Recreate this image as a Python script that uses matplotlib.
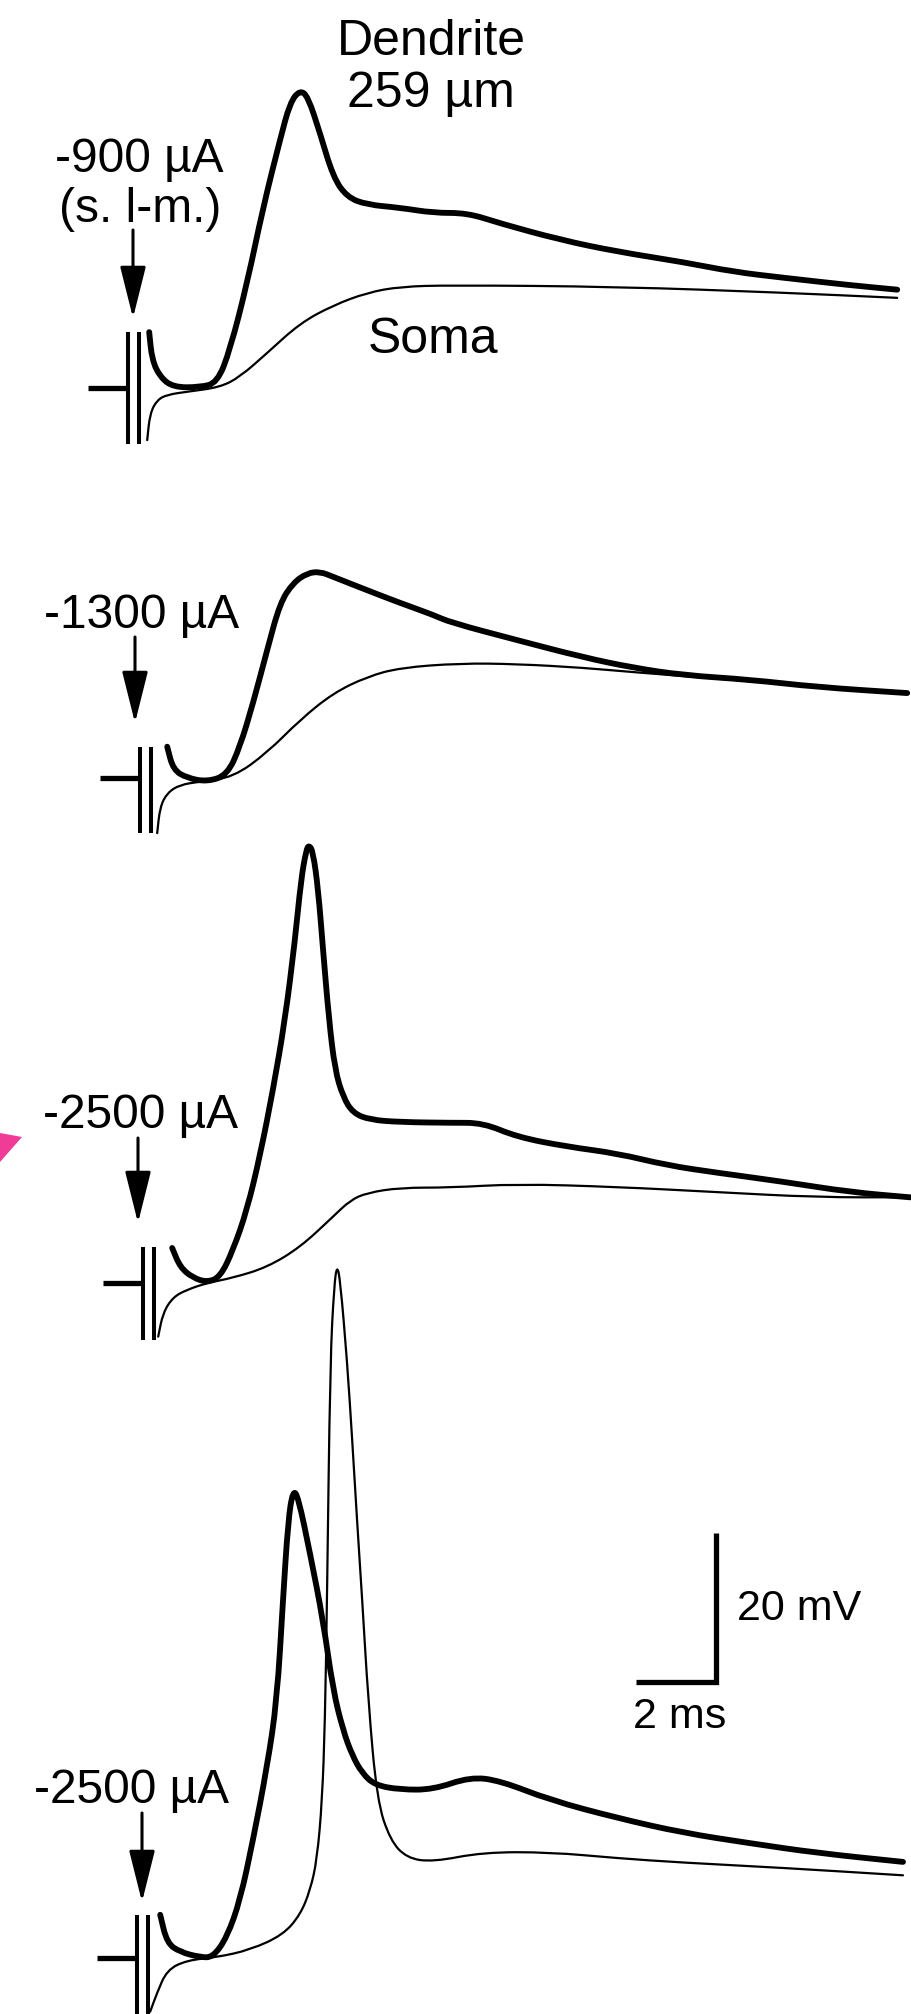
import numpy as np
import matplotlib.pyplot as plt
from matplotlib.patches import Polygon, PathPatch
from matplotlib.path import Path

plt.rcParams['font.family'] = ['Liberation Sans', 'DejaVu Sans']

W, H = 912, 2014
PX_MS = 40.0    # px per ms (2 ms bar = 80 px)
PX_MV = 7.45    # px per mV (20 mV bar = 149 px)

# ---- data: time (ms from stimulus) and voltage (mV from baseline) ----
# panel 1: -900 uA (s. l-m.)
t_d1 = [0.53, 0.6, 0.8, 1.13, 1.8, 2.23, 2.55, 2.98, 3.38, 3.8, 4.05, 4.3, 4.5, 4.8,
        5.13, 5.48, 5.98, 6.8, 7.63, 8.48, 9.3, 10.8, 12.23, 13.88, 15.13, 16.38, 18.05, 19.23]
v_d1 = [7.5, 3.8, 1.5, 0.1, 0.1, 0.7, 5.1, 14.1, 24.3, 33.3, 38.3, 40.0, 39.1, 34.2,
        28.3, 25.6, 24.6, 24.2, 23.5, 23.5, 22.1, 19.9, 18.3, 16.9, 15.6, 14.8, 13.8, 13.2]
t_s1 = [0.48, 0.55, 0.73, 0.98, 1.48, 2.3, 2.8, 3.48, 4.3, 5.13, 5.98, 6.8, 8.05, 12.23, 16.38, 19.23]
v_s1 = [-7.0, -3.4, -1.6, -0.9, -0.5, 0.1, 1.5, 4.7, 8.7, 11.1, 12.8, 13.6, 13.8, 13.6, 12.8, 12.1]

# panel 2: -1300 uA
t_d2 = [0.68, 0.83, 1.18, 1.68, 2.18, 2.5, 2.83, 3.18, 3.5, 3.83, 4.18, 4.5, 4.83,
        5.68, 6.5, 7.33, 7.75, 9.43, 11.08, 12.33, 13.58, 15.25, 16.93, 19.18]
v_d2 = [4.2, 1.1, 0.0, -0.5, 0.4, 4.2, 10.1, 17.2, 23.5, 26.2, 27.5, 27.7, 27.0,
        25.2, 23.5, 21.9, 20.9, 18.5, 16.2, 14.8, 13.8, 13.2, 12.2, 11.4]
t_s2 = [0.43, 0.5, 0.68, 1.0, 1.5, 2.33, 3.18, 4.0, 4.83, 5.68, 6.5, 8.0, 9.43, 11.08, 12.33, 15.25, 19.18]
v_s2 = [-7.4, -3.9, -2.0, -0.9, -0.5, 0.1, 3.4, 7.8, 11.4, 13.6, 14.8, 15.4, 15.3, 14.8, 14.2, 13.0, 11.3]

# panel 3: -2500 uA
t_d3 = [0.73, 0.93, 1.25, 1.6, 1.93, 2.25, 2.6, 2.93, 3.25, 3.55, 3.8, 3.95, 4.08, 4.15,
        4.25, 4.38, 4.5, 4.65, 4.8, 5.0, 5.25, 5.68, 6.43, 7.68, 8.5, 9.35, 10.6, 11.85,
        13.1, 14.35, 16.0, 17.68, 19.18]
v_d3 = [4.7, 2.1, 0.7, 0.1, 0.8, 4.4, 9.8, 17.2, 25.9, 35.3, 46.0, 54.1, 58.1, 58.8,
        57.9, 52.8, 44.8, 35.3, 28.6, 25.0, 22.8, 21.9, 21.6, 21.5, 21.5, 19.6, 18.3, 17.4,
        15.8, 14.8, 13.6, 12.2, 11.5]
t_s3 = [0.38, 0.5, 0.75, 1.1, 1.6, 2.25, 3.1, 3.93, 4.75, 5.18, 5.6, 6.43, 7.68, 9.35,
        11.85, 14.35, 16.85, 19.18]
v_s3 = [-7.2, -4.0, -1.9, -0.9, 0.0, 0.7, 2.1, 4.8, 8.9, 11.1, 12.1, 12.8, 12.8, 13.3,
        12.9, 12.2, 11.5, 11.5]

# panel 4: -2500 uA (somatic spike)
t_d4 = [0.58, 0.75, 1.08, 1.58, 1.9, 2.25, 2.58, 2.9, 3.25, 3.5, 3.65, 3.78, 3.9, 4.03,
        4.33, 4.65, 4.9, 5.15, 5.38, 5.63, 5.95, 6.58, 7.4, 8.33, 9.08, 10.33, 12.0,
        13.65, 15.33, 17.0, 19.15]
v_d4 = [5.8, 2.0, 0.8, 0.1, 0.1, 2.8, 7.8, 15.8, 25.6, 34.6, 48.1, 58.8, 62.8, 61.9,
        54.2, 45.4, 36.0, 30.6, 27.2, 24.8, 23.2, 22.6, 22.6, 24.3, 23.8, 21.2, 18.8,
        16.8, 15.4, 14.1, 12.9]
t_s4 = [0.33, 0.5, 0.75, 1.25, 2.0, 2.83, 3.65, 4.08, 4.33, 4.5, 4.63, 4.7, 4.75, 4.83,
        4.93, 5.0, 5.08, 5.25, 5.38, 5.5, 5.63, 5.78, 6.0, 6.33, 6.75, 7.4, 8.65, 10.33,
        12.0, 13.65, 16.15, 19.15]
v_s4 = [-7.2, -4.7, -1.6, -0.3, 0.1, 1.1, 3.1, 5.8, 9.1, 13.2, 21.2, 31.9, 48.1, 80.3,
        90.3, 93.0, 91.0, 80.3, 69.6, 58.8, 48.1, 34.6, 21.2, 15.8, 13.4, 12.9, 14.2, 14.2,
        13.4, 12.8, 12.1, 11.1]

dend = [(t_d1, v_d1), (t_d2, v_d2), (t_d3, v_d3), (t_d4, v_d4)]
soma = [(t_s1, v_s1), (t_s2, v_s2), (t_s3, v_s3), (t_s4, v_s4)]
stim_labels = ['-900 \u00b5A\n(s. l-m.)', '-1300 \u00b5A', '-2500 \u00b5A', '-2500 \u00b5A']

# stimulus artifact extent (mV)
art_top = [7.5, 4.2, 4.8, 5.8]
art_bot = [-7.5, -7.4, -7.7, -8.0]

# layout of the panels on the page (px)
stim_x = [128, 140, 143, 137]
base_y = [388, 778, 1283, 1958]
label_xy = [(139, 172), (142, 628), (141, 1128), (132, 1803)]
arrow_x = [133, 135, 138, 142]
arrow_y = [(230, 318), (637, 723), (1138, 1223), (1813, 1902)]


def trace(ax, t, v, lw):
    # smooth pen-like drawing: quadratic curves through segment midpoints
    pts = np.column_stack([t, v])
    mids = (pts[:-1] + pts[1:]) / 2
    verts = [pts[0], mids[0]]
    codes = [Path.MOVETO, Path.LINETO]
    for i in range(1, len(pts) - 1):
        verts += [pts[i], mids[i]]
        codes += [Path.CURVE3, Path.CURVE3]
    verts.append(pts[-1])
    codes.append(Path.LINETO)
    ax.add_patch(PathPatch(Path(verts, codes), fill=False, edgecolor='k', lw=lw,
                           capstyle='round', joinstyle='round'))


fig = plt.figure(figsize=(9.12, 20.14), dpi=100)

# page axes in pixel units for labels/arrows
bg = fig.add_axes([0, 0, 1, 1])
bg.set_xlim(0, W)
bg.set_ylim(H, 0)
bg.axis('off')

axes = []
for i in range(4):
    x0, yb = stim_x[i], base_y[i]
    ax = fig.add_axes([0, 0, 1, 1])
    ax.set_xlim(-x0 / PX_MS, (W - x0) / PX_MS)
    ax.set_ylim((yb - H) / PX_MV, yb / PX_MV)
    ax.axis('off')
    axes.append(ax)

    # pre-stimulus baseline
    ax.plot([-1.0, 0.0], [0, 0], color='k', lw=3.8, solid_capstyle='butt')
    # stimulus artifact
    for ta in (0.0, 0.28):
        ax.plot([ta, ta], [art_bot[i], art_top[i]], color='k', lw=2.9, solid_capstyle='butt')
    # traces
    trace(ax, soma[i][0], soma[i][1], 1.6)
    trace(ax, dend[i][0], dend[i][1], 4.2)

    # stimulus label and arrow
    lx, ly = label_xy[i]
    lines = stim_labels[i].split('\n')
    bg.text(lx, ly, lines[0], ha='center', va='baseline', fontsize=34.5)
    if len(lines) > 1:
        bg.text(lx + 1, ly + 50, lines[1], ha='center', va='baseline', fontsize=34.5)
    bg.annotate('', xy=(arrow_x[i], arrow_y[i][1]), xytext=(arrow_x[i], arrow_y[i][0]),
                arrowprops=dict(arrowstyle='-|>,head_length=0.8,head_width=0.2',
                                mutation_scale=40, lw=2.2, color='k',
                                shrinkA=0, shrinkB=0))

# trace names
bg.text(431, 55, 'Dendrite', ha='center', va='baseline', fontsize=36)
bg.text(431, 107, '259 \u00b5m', ha='center', va='baseline', fontsize=36)
bg.text(433, 353, 'Soma', ha='center', va='baseline', fontsize=36)

# scale bar: 2 ms x 20 mV, drawn in panel 4 units
ax4 = axes[3]
sb_t, sb_v = 14.48, 37.0
ax4.plot([sb_t - 2, sb_t, sb_t], [sb_v, sb_v, sb_v + 20], color='k', lw=3.8,
         solid_joinstyle='miter', solid_capstyle='butt')
bg.text(737, 1620, '20 mV', ha='left', va='baseline', fontsize=31)
bg.text(680, 1728, '2 ms', ha='center', va='baseline', fontsize=31)

# pink mark at the left edge
bg.add_patch(Polygon([(0, 1133), (22, 1137), (0, 1162)], closed=True,
                     facecolor='#F03C96', edgecolor='none'))

fig.savefig('out.png', dpi=100, facecolor='white')
